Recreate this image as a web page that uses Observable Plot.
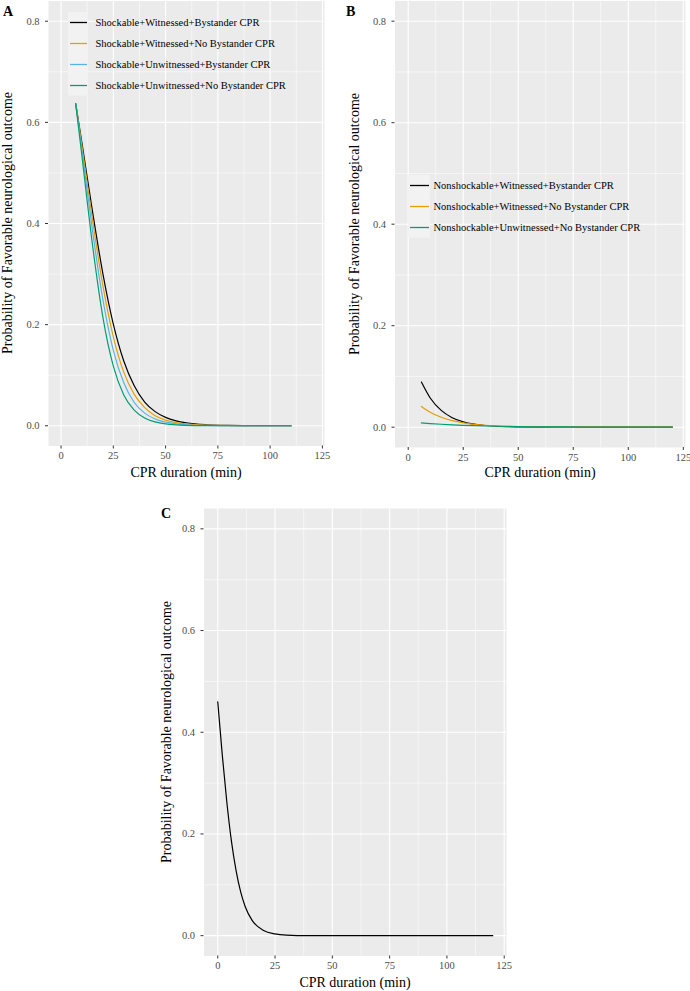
<!DOCTYPE html>
<html>
<head>
<meta charset="utf-8">
<script src="https://cdn.jsdelivr.net/npm/d3@7"></script>
<script src="https://cdn.jsdelivr.net/npm/@observablehq/plot@0.6"></script>
<style>
  html, body { margin: 0; padding: 0; background: #fff; }
  #root { position: relative; width: 690px; height: 991px; font-family: "Liberation Serif", "Times New Roman", serif; overflow: hidden; }
  #root svg text { font-family: "Liberation Serif", "Times New Roman", serif; }
  .abs { position: absolute; }
  .title { position: absolute; font-size: 14px; color: #000; white-space: nowrap; transform: translate(-50%, -50%); line-height: 1; }
  .ytitle { position: absolute; font-size: 14px; color: #000; white-space: nowrap; transform: translate(-50%, -50%) rotate(-90deg); line-height: 1; }
  .tag { position: absolute; font-size: 14px; font-weight: bold; color: #000; line-height: 1; }
</style>
</head>
<body>
<div id="root"></div>
<script>
// ---------- data ----------
const xTicks = [0, 25, 50, 75, 100, 125];
const xMinor = [12.5, 37.5, 62.5, 87.5, 112.5];
const yTicks = [0, 0.2, 0.4, 0.6, 0.8];
const yMinor = [0.1, 0.3, 0.5, 0.7];

// Panel A (shockable)
const xA = [7, 10, 15, 20, 25, 30, 35, 40, 45, 50, 55, 60, 70, 80, 90, 100, 110];
const A_WitBys    = [0.637, 0.559, 0.425, 0.301, 0.201, 0.128, 0.079, 0.047, 0.028, 0.0166, 0.0098, 0.0057, 0.0019, 0.0006, 0.0002, 0.0001, 0.0000];
const A_WitNoBys  = [0.637, 0.553, 0.408, 0.277, 0.176, 0.106, 0.062, 0.036, 0.020, 0.0113, 0.0064, 0.0036, 0.0011, 0.0003, 0.0001, 0.0000, 0.0000];
const A_UnwBys    = [0.637, 0.545, 0.387, 0.250, 0.149, 0.085, 0.046, 0.025, 0.0134, 0.0071, 0.0038, 0.0020, 0.0006, 0.0002, 0.0000, 0.0000, 0.0000];
const A_UnwNoBys  = [0.637, 0.533, 0.359, 0.215, 0.118, 0.061, 0.031, 0.0154, 0.0076, 0.0037, 0.0018, 0.0009, 0.0002, 0.0000, 0.0000, 0.0000, 0.0000];
const A_names = ["Shockable+Witnessed+Bystander CPR", "Shockable+Witnessed+No Bystander CPR", "Shockable+Unwitnessed+Bystander CPR", "Shockable+Unwitnessed+No Bystander CPR"];

// Panel B (nonshockable)
const xB = [6, 10, 15, 20, 25, 30, 35, 40, 50, 60, 70, 80, 90, 100, 110, 120];
const B_WitBys   = [0.089, 0.0576, 0.0331, 0.0188, 0.0106, 0.0060, 0.0034, 0.0019, 0.0006, 0.0002, 0.0001, 0, 0, 0, 0, 0];
const B_WitNoBys = [0.041, 0.0295, 0.0195, 0.0128, 0.0084, 0.0055, 0.0036, 0.0024, 0.0010, 0.0004, 0.0002, 0.0001, 0, 0, 0, 0];
const B_UnwNoBys = [0.0085, 0.0072, 0.0058, 0.0046, 0.0037, 0.0030, 0.0024, 0.0019, 0.0012, 0.0008, 0.0005, 0.0003, 0.0002, 0.0001, 0, 0];
const B_names = ["Nonshockable+Witnessed+Bystander CPR", "Nonshockable+Witnessed+No Bystander CPR", "Nonshockable+Unwitnessed+No Bystander CPR"];

// Panel C
const xC = [0, 2, 4, 6, 8, 10, 12, 15, 20, 25, 30, 40, 50, 60, 80, 100, 120];
const C_all = [0.460, 0.354, 0.261, 0.185, 0.128, 0.086, 0.057, 0.030, 0.0103, 0.0035, 0.0012, 0.0001, 0, 0, 0, 0, 0];

const colors4 = ["#000000", "#E69F00", "#56B4E9", "#009E73"];
const colors3 = ["#000000", "#E69F00", "#009E73"];

const xLabel = "CPR duration (min)";
const yLabel = "Probability of Favorable neurological outcome";

// ---------- helpers ----------
const toRows = (xs, ys) => xs.map((x, i) => ({x, y: ys[i]}));

function panel({width, height, ml, mr, mt, mb, series}) {
  return Plot.plot({
    width, height,
    marginLeft: ml, marginRight: mr, marginTop: mt, marginBottom: mb,
    style: {fontFamily: "Liberation Serif", fontSize: "10.5px", color: "#4D4D4D", background: "transparent", overflow: "visible"},
    x: {domain: [-6, 126]},
    y: {domain: [-0.04, 0.84]},
    marks: [
      Plot.frame({fill: "#EBEBEB", stroke: null}),
      Plot.gridX(xMinor, {stroke: "white", strokeOpacity: 1, strokeWidth: 0.55}),
      Plot.gridY(yMinor, {stroke: "white", strokeOpacity: 1, strokeWidth: 0.55}),
      Plot.gridX(xTicks, {stroke: "white", strokeOpacity: 1, strokeWidth: 1.1}),
      Plot.gridY(yTicks, {stroke: "white", strokeOpacity: 1, strokeWidth: 1.1}),
      Plot.axisX(xTicks, {tickSize: 3, tickPadding: 3, label: null, stroke: "#333333", fill: "#4D4D4D"}),
      Plot.axisY(yTicks, {tickSize: 3, tickPadding: 6, label: null, tickFormat: d3.format(".1f"), stroke: "#333333", fill: "#4D4D4D"}),
      ...series.map(s => Plot.line(s.rows, {x: "x", y: "y", stroke: s.color, strokeWidth: 1.2, curve: "monotone-x"}))
    ]
  });
}

const root = document.getElementById("root");
function place(el, left, top) {
  const d = document.createElement("div");
  d.className = "abs";
  d.style.left = left + "px";
  d.style.top = top + "px";
  d.appendChild(el);
  root.appendChild(d);
}
function addText(cls, text, left, top) {
  const d = document.createElement("div");
  d.className = cls;
  d.textContent = text;
  d.style.left = left + "px";
  d.style.top = top + "px";
  root.appendChild(d);
}
function addLegend(names, cols, left, top, keyW, rowH, textX) {
  const ns = "http://www.w3.org/2000/svg";
  const svg = document.createElementNS(ns, "svg");
  const h = Math.ceil(rowH * names.length) + 1;
  svg.setAttribute("width", 300);
  svg.setAttribute("height", h);
  const bg = document.createElementNS(ns, "rect");
  bg.setAttribute("x", 0); bg.setAttribute("y", 0);
  bg.setAttribute("width", keyW); bg.setAttribute("height", rowH * names.length);
  bg.setAttribute("fill", "#F2F2F2");
  svg.appendChild(bg);
  names.forEach((n, i) => {
    const cy = Math.round(rowH * i + rowH / 2) + 0.5;
    const ln = document.createElementNS(ns, "line");
    ln.setAttribute("x1", 2); ln.setAttribute("x2", keyW - 1);
    ln.setAttribute("y1", cy); ln.setAttribute("y2", cy);
    ln.setAttribute("stroke", cols[i]); ln.setAttribute("stroke-width", 1.3);
    svg.appendChild(ln);
    const t = document.createElementNS(ns, "text");
    t.setAttribute("x", textX); t.setAttribute("y", cy);
    t.setAttribute("dy", "0.34em");
    t.setAttribute("font-size", "10.5px");
    t.setAttribute("fill", "#000");
    t.textContent = n;
    svg.appendChild(t);
  });
  place(svg, left, top);
}

// ---------- Panel A ----------
const seriesA = [A_WitBys, A_WitNoBys, A_UnwBys, A_UnwNoBys].map((ys, i) => ({rows: toRows(xA, ys), color: colors4[i]}));
place(panel({width: 345, height: 480, ml: 48, mr: 21, mt: 0.5, mb: 34.5, series: seriesA}), 0, 0);
addText("title", xLabel, 186, 473);
addText("ytitle", yLabel, 7.5, 223);
addText("tag", "A", 3, 5);
addLegend(A_names, colors4, 68, 12, 20, 20.9, 27.5);

// ---------- Panel B ----------
const seriesB = [B_WitBys, B_WitNoBys, B_UnwNoBys].map((ys, i) => ({rows: toRows(xB, ys), color: colors3[i]}));
place(panel({width: 345, height: 480, ml: 49.5, mr: 5, mt: 0.4, mb: 33, series: seriesB}), 345, 0);
addText("title", xLabel, 540, 473);
addText("ytitle", yLabel, 355, 224);
addText("tag", "B", 346, 5);
addLegend(B_names, colors3, 408, 174.5, 22, 20.9, 25.5);

// ---------- Panel C ----------
const seriesC = [{rows: toRows(xC, C_all), color: "#000000"}];
place(panel({width: 370, height: 501, ml: 53.5, mr: 14, mt: 18, mb: 35.5, series: seriesC}), 150, 490);
addText("title", xLabel, 355, 983);
addText("ytitle", yLabel, 167, 732);
addText("tag", "C", 161, 507);
</script>
</body>
</html>
